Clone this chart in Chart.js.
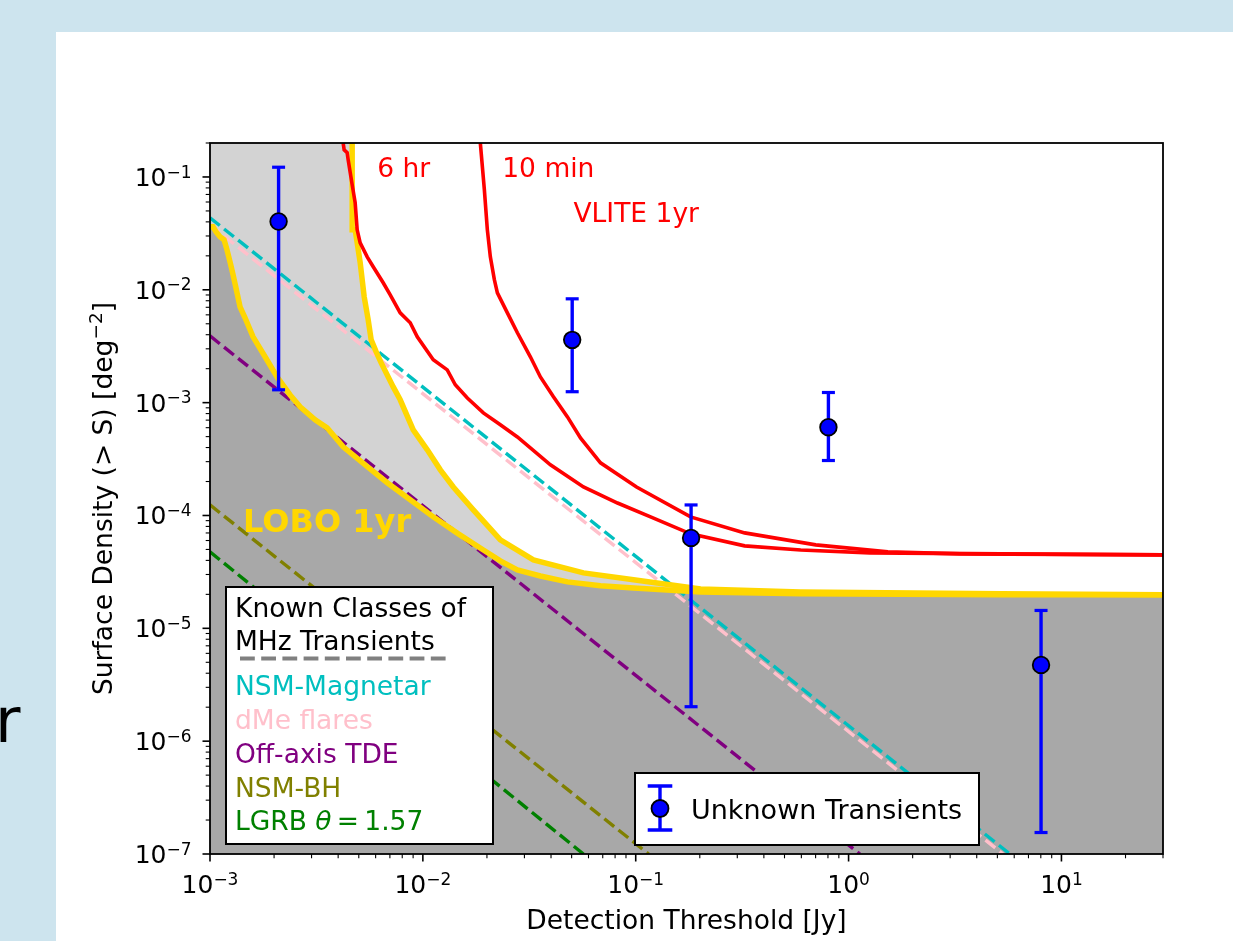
<!DOCTYPE html>
<html>
<head>
<meta charset="utf-8">
<title>LOBO / VLITE surface density</title>
<script src="https://cdn.jsdelivr.net/npm/chart.js@4.4.1/dist/chart.umd.min.js"></script>
<style>
    html, body { margin: 0; padding: 0; }
    body { width: 1233px; height: 941px; overflow: hidden; position: relative; background: #cde4ee; font-family: 'DejaVu Sans', sans-serif; }
    #panel { position: absolute; left: 56px; top: 32px; width: 1177px; height: 909px; background: #fff; }
    #cut { position: absolute; left: -5px; top: 690px; font-size: 62px; line-height: 62px; color: #000; }
    canvas { display: block; }
</style>
</head>
<body>
<div id="cut">r</div>
<div id="panel"><canvas id="myChart" width="1177" height="909" style="width:1177px;height:909px"></canvas></div>
<script>
// detection threshold [Jy] vs surface density [deg^-2]

// LOBO 1yr, lower curve (edge of the dark grey area)
const loboLowX = [1.0e-3, 1.033e-3, 1.067e-3, 1.114e-3, 1.164e-3, 1.202e-3, 1.242e-3, 1.283e-3, 1.340e-3, 1.384e-3,
    1.461e-3, 1.593e-3, 1.814e-3, 2.066e-3, 2.379e-3, 2.651e-3, 3.118e-3, 3.550e-3, 4.223e-3, 5.359e-3,
    6.801e-3, 8.724e-3, 1.119e-2, 1.468e-2, 1.924e-2, 2.312e-2, 2.780e-2, 3.566e-2, 4.779e-2, 6.831e-2,
    9.765e-2, 0.2018, 0.5961, 5.199, 30];
const loboLowY = [0.0362, 0.0362, 0.0327, 0.0295, 0.0278, 0.0226, 0.0177, 0.0136, 0.0094, 0.00707,
    0.00565, 0.00383, 0.00255, 0.00169, 0.00117, 9.18e-4, 7.04e-4, 5.98e-4, 4.06e-4, 2.81e-4,
    1.95e-4, 1.38e-4, 9.72e-5, 6.87e-5, 4.95e-5, 3.96e-5, 3.29e-5, 2.91e-5, 2.58e-5, 2.38e-5,
    2.28e-5, 2.10e-5, 2.02e-5, 1.98e-5, 1.98e-5];

// LOBO 1yr, upper curve (edge of the light grey area)
const loboHighX = [4.655e-3, 4.655e-3, 4.808e-3, 4.914e-3, 5.076e-3, 5.30e-3, 5.536e-3, 5.717e-3, 6.036e-3, 6.371e-3,
    7.257e-3, 7.826e-3, 9.01e-3, 1.049e-2, 1.208e-2, 1.390e-2, 1.726e-2, 2.312e-2, 3.306e-2, 5.682e-2,
    9.765e-2, 0.2018, 0.5961, 5.199, 30];
const loboHighY = [0.2, 0.034, 0.034, 0.0261, 0.0174, 0.0087, 0.00542, 0.0036, 0.00282, 0.00225,
    0.00138, 0.00106, 5.74e-4, 3.82e-4, 2.54e-4, 1.79e-4, 1.12e-4, 6.08e-5, 4.04e-5, 3.10e-5,
    2.69e-5, 2.23e-5, 2.10e-5, 2.02e-5, 1.98e-5];

// VLITE 1yr, 6 hr
const vlite6hX = [4.222e-3, 4.268e-3, 4.409e-3, 4.457e-3, 4.655e-3, 4.808e-3, 4.914e-3, 5.076e-3, 5.476e-3, 5.844e-3,
    6.511e-3, 7.025e-3, 7.826e-3, 8.724e-3, 9.412e-3, 1.119e-2, 1.302e-2, 1.420e-2, 1.618e-2, 1.924e-2,
    2.312e-2, 2.780e-2, 3.974e-2, 5.682e-2, 8.213e-2, 0.1174, 0.1810, 0.3249, 0.5961, 1.259, 5.199, 30];
const vlite6hY = [0.2, 0.174, 0.164, 0.142, 0.0853, 0.0591, 0.0340, 0.0261, 0.0196, 0.0160,
    0.01154, 0.00903, 0.00625, 0.0051, 0.00383, 0.0024, 0.00195, 0.00144, 0.0011, 8.12e-4,
    6.36e-4, 4.97e-4, 2.81e-4, 1.79e-4, 1.29e-4, 9.72e-5, 6.87e-5, 5.38e-5, 4.95e-5, 4.66e-5, 4.57e-5, 4.48e-5];

// VLITE 1yr, 10 min
const vlite10mX = [1.862e-2, 1.945e-2, 2.009e-2, 2.075e-2, 2.167e-2, 2.239e-2, 2.495e-2, 2.780e-2, 3.199e-2, 3.566e-2,
    4.106e-2, 4.779e-2, 5.501e-2, 6.831e-2, 0.1009, 0.1810, 0.3249, 0.7009, 1.529, 3.334, 30];
const vlite10mY = [0.2, 0.077, 0.034, 0.0196, 0.0123, 0.0094, 0.00625, 0.00416, 0.00255, 0.00169,
    0.00113, 7.48e-4, 4.87e-4, 2.93e-4, 1.79e-4, 9.72e-5, 7.01e-5, 5.49e-5, 4.76e-5, 4.57e-5, 4.48e-5];

// known classes (dashed), end points on the frame
const magnetarX = [1e-3, 5.73];
const magnetarY = [0.0435, 1e-7];
const dmeX = [1e-3, 5.31];
const dmeY = [0.0377, 1e-7];
const tdeX = [1e-3, 1.13];
const tdeY = [0.0039, 1e-7];
const nsmbhX = [1e-3, 0.115];
const nsmbhY = [1.24e-4, 1e-7];
const lgrbX = [1e-3, 0.0568];
const lgrbY = [4.76e-5, 1e-7];

// unknown transients with error bars
const unkX = [2.10e-3, 5.03e-2, 0.182, 0.804, 8.02];
const unkY = [4.03e-2, 3.60e-3, 6.33e-5, 6.06e-4, 4.74e-6];
const unkLo = [1.30e-3, 1.25e-3, 2.02e-6, 3.07e-4, 1.55e-7];
const unkHi = [0.122, 8.32e-3, 1.24e-4, 1.23e-3, 1.44e-5];

const classNames = ['NSM-Magnetar', 'dMe flares', 'Off-axis TDE', 'NSM-BH', 'LGRB θ = 1.57'];
const xTickLabels = ['10^−3', '10^−2', '10^−1', '10^0', '10^1'];
const yTickLabels = ['10^−7', '10^−6', '10^−5', '10^−4', '10^−3', '10^−2', '10^−1'];

const classColors = ['#00bfbf', '#ffc0cb', '#800080', '#808000', '#008000'];
const darkGrey = '#a8a8a8';
const lightGrey = '#d3d3d3';
const gold = '#ffd700';
const FONT = '"DejaVu Sans"';

Chart.defaults.font.family = "'DejaVu Sans', sans-serif";
Chart.defaults.color = '#000';

function pts(xs, ys) {
    return xs.map((x, i) => ({x: x, y: ys[i]}));
}

// decades plus 2..9 minor ticks, like matplotlib
function logTicks(min, max) {
    const out = [];
    for (let e = Math.floor(Math.log10(min)); e <= Math.ceil(Math.log10(max)); e++) {
        for (let m = 1; m < 10; m++) {
            const v = m * Math.pow(10, e);
            if (v >= min * 0.999 && v <= max * 1.001) out.push({value: v, major: m === 1});
        }
    }
    return out;
}

function decadeLabel(v, labels, lowest) {
    const l = Math.log10(v);
    const e = Math.round(l);
    if (Math.abs(l - e) > 1e-6) return '';
    return labels[e - lowest] || '';
}

// "10^-3" drawn as 10 with a raised exponent
function drawPow(ctx, label, x, y, align) {
    const parts = label.split('^');
    ctx.font = '25px ' + FONT;
    const wb = ctx.measureText(parts[0]).width;
    ctx.font = '17px ' + FONT;
    const we = ctx.measureText(parts[1]).width;
    const left = align === 'center' ? x - (wb + we) / 2 : x - wb - we;
    ctx.font = '25px ' + FONT;
    ctx.fillText(parts[0], left, y);
    ctx.font = '17px ' + FONT;
    ctx.fillText(parts[1], left + wb, y - 8.4);
}

const classX = [magnetarX, dmeX, tdeX, nsmbhX, lgrbX];
const classY = [magnetarY, dmeY, tdeY, nsmbhY, lgrbY];

const classLines = classX.map((xs, i) => ({
    label: classNames[i],
    data: pts(xs, classY[i]),
    borderColor: classColors[i],
    borderWidth: 3.4,
    borderDash: [12.5, 5.5],
    order: 10
}));

const errorBars = unkX.map((x, i) => ({
    label: 'err' + i,
    data: [{x: x, y: unkLo[i]}, {x: x, y: unkHi[i]}],
    borderColor: '#0000ff',
    borderWidth: 3.4,
    pointStyle: 'line',
    pointRadius: 6.5,
    pointBorderWidth: 3.2,
    pointBorderColor: '#0000ff',
    order: 2
}));

const datasets = [
    {
        label: 'dark area',
        data: pts(loboLowX, loboLowY),
        borderWidth: 0,
        backgroundColor: darkGrey,
        fill: 'start',
        order: 30
    },
    {
        label: 'light area',
        data: [{x: 1e-3, y: 0.2}].concat(pts(loboHighX, loboHighY)),
        borderWidth: 0,
        backgroundColor: lightGrey,
        fill: '-1',
        order: 29
    },
    ...classLines,
    {label: 'LOBO low', data: pts(loboLowX, loboLowY), borderColor: gold, borderWidth: 5.5, order: 5},
    {label: 'LOBO high', data: pts(loboHighX, loboHighY), borderColor: gold, borderWidth: 5.5, order: 5},
    {label: '6 hr', data: pts(vlite6hX, vlite6hY), borderColor: '#ff0000', borderWidth: 3.6, order: 4},
    {label: '10 min', data: pts(vlite10mX, vlite10mY), borderColor: '#ff0000', borderWidth: 3.6, order: 4},
    ...errorBars,
    {
        label: 'Unknown Transients',
        data: pts(unkX, unkY),
        showLine: false,
        pointRadius: 8.3,
        pointBackgroundColor: '#0000ff',
        pointBorderColor: '#000',
        pointBorderWidth: 1.8,
        order: 1
    }
];

// frame, outward ticks, tick labels and y title
const frameTicks = {
    id: 'frameTicks',
    afterDatasetsDraw(chart) {
        const {ctx, chartArea: a, scales} = chart;
        ctx.save();
        ctx.strokeStyle = '#000';
        ctx.fillStyle = '#000';
        ctx.textBaseline = 'alphabetic';
        ctx.textAlign = 'left';
        scales.x.ticks.forEach(t => {
            const p = scales.x.getPixelForValue(t.value);
            ctx.lineWidth = t.major ? 1.6 : 1.1;
            ctx.beginPath();
            ctx.moveTo(p, a.bottom);
            ctx.lineTo(p, a.bottom + (t.major ? 7.5 : 4.3));
            ctx.stroke();
            const lab = decadeLabel(t.value, xTickLabels, -3);
            if (lab) drawPow(ctx, lab, p, a.bottom + 39.3, 'center');
        });
        scales.y.ticks.forEach(t => {
            const p = scales.y.getPixelForValue(t.value);
            ctx.lineWidth = t.major ? 1.6 : 1.1;
            ctx.beginPath();
            ctx.moveTo(a.left, p);
            ctx.lineTo(a.left - (t.major ? 7.5 : 4.3), p);
            ctx.stroke();
            const lab = decadeLabel(t.value, yTickLabels, -7);
            if (lab) drawPow(ctx, lab, a.left - 18.5, p + 9, 'right');
        });
        ctx.lineWidth = 1.8;
        ctx.strokeRect(a.left, a.top, a.right - a.left, a.bottom - a.top);

        // y axis title with a real superscript
        ctx.translate(a.left - 98.3, (a.top + a.bottom) / 2);
        ctx.rotate(-Math.PI / 2);
        const t1 = 'Surface Density (> S) [deg', t2 = '−2', t3 = ']';
        ctx.font = '26.5px ' + FONT;
        const w1 = ctx.measureText(t1).width, w3 = ctx.measureText(t3).width;
        ctx.font = '18.5px ' + FONT;
        const w2 = ctx.measureText(t2).width;
        const x0 = -(w1 + w2 + w3) / 2;
        ctx.font = '26.5px ' + FONT;
        ctx.fillText(t1, x0, 0);
        ctx.fillText(t3, x0 + w1 + w2, 0);
        ctx.font = '18.5px ' + FONT;
        ctx.fillText(t2, x0 + w1, -9.5);
        ctx.restore();
    }
};

const notes = [
    {text: '6 hr', x: 6.1e-3, y: 0.1, color: '#ff0000', font: '26.5px ' + FONT},
    {text: '10 min', x: 2.36e-2, y: 0.1, color: '#ff0000', font: '26.5px ' + FONT},
    {text: 'VLITE 1yr', x: 5.1e-2, y: 4.0e-2, color: '#ff0000', font: '26.5px ' + FONT},
    {text: 'LOBO 1yr', x: 1.43e-3, y: 7.2e-5, color: gold, font: 'bold 32px ' + FONT}
];

const textNotes = {
    id: 'textNotes',
    afterDatasetsDraw(chart) {
        const {ctx, scales} = chart;
        ctx.save();
        ctx.textAlign = 'left';
        ctx.textBaseline = 'alphabetic';
        notes.forEach(n => {
            ctx.font = n.font;
            ctx.fillStyle = n.color;
            ctx.fillText(n.text, scales.x.getPixelForValue(n.x), scales.y.getPixelForValue(n.y));
        });
        ctx.restore();
    }
};

const legendBoxes = {
    id: 'legendBoxes',
    afterDraw(chart) {
        const {ctx, chartArea: a} = chart;
        ctx.save();
        ctx.textAlign = 'left';
        ctx.textBaseline = 'alphabetic';

        // known classes box
        const bx = a.left + 16, by = a.bottom - 267;
        ctx.fillStyle = '#fff';
        ctx.fillRect(bx, by, 267, 257);
        ctx.lineWidth = 2;
        ctx.strokeStyle = '#000';
        ctx.strokeRect(bx, by, 267, 257);

        const normal = '26.5px ' + FONT;
        ctx.font = normal;
        ctx.fillStyle = '#000';
        ctx.fillText('Known Classes of', bx + 9, by + 30);
        ctx.fillText('MHz Transients', bx + 9, by + 63);

        ctx.setLineDash([14.8, 6.4]);
        ctx.lineWidth = 4;
        ctx.strokeStyle = '#808080';
        ctx.beginPath();
        ctx.moveTo(bx + 14, by + 71.5);
        ctx.lineTo(bx + 221, by + 71.5);
        ctx.stroke();
        ctx.setLineDash([]);

        classNames.forEach((name, i) => {
            const ty = by + 108.3 + i * 33.75;
            const parts = name.split('θ');
            let tx = bx + 9;
            ctx.fillStyle = classColors[i];
            ctx.font = normal;
            ctx.fillText(parts[0], tx, ty);
            if (parts.length > 1) {
                // math-style: italic theta, tight spacing round '='
                tx += ctx.measureText(parts[0]).width;
                ctx.font = 'italic ' + normal;
                ctx.fillText('θ', tx, ty);
                tx += ctx.measureText('θ').width;
                ctx.font = normal;
                ctx.fillText(parts[1].replace(/ /g, '\u2009'), tx, ty);
            }
        });

        // unknown transients box
        const cx = a.left + 425, cy = a.bottom - 81;
        ctx.fillStyle = '#fff';
        ctx.fillRect(cx, cy, 344, 72);
        ctx.lineWidth = 2;
        ctx.strokeStyle = '#000';
        ctx.strokeRect(cx, cy, 344, 72);

        const hx = cx + 25;
        ctx.strokeStyle = '#0000ff';
        ctx.lineWidth = 3.4;
        ctx.beginPath();
        ctx.moveTo(hx, cy + 13);
        ctx.lineTo(hx, cy + 57);
        ctx.moveTo(hx - 12.3, cy + 13);
        ctx.lineTo(hx + 12.3, cy + 13);
        ctx.moveTo(hx - 12.3, cy + 57);
        ctx.lineTo(hx + 12.3, cy + 57);
        ctx.stroke();
        ctx.beginPath();
        ctx.arc(hx, cy + 35.5, 8.5, 0, Math.PI * 2);
        ctx.fillStyle = '#0000ff';
        ctx.fill();
        ctx.lineWidth = 1.8;
        ctx.strokeStyle = '#000';
        ctx.stroke();

        ctx.font = '27px ' + FONT;
        ctx.fillStyle = '#000';
        ctx.fillText('Unknown Transients', cx + 56, cy + 46);
        ctx.restore();
    }
};

const config = {
    type: 'line',
    data: {datasets: datasets},
    options: {
        responsive: false,
        animation: false,
        events: [],
        layout: {padding: {left: 0, right: 70, top: 111, bottom: 0}},
        elements: {point: {radius: 0}, line: {tension: 0}},
        datasets: {line: {clip: 0}},
        plugins: {legend: {display: false}, tooltip: {enabled: false}},
        scales: {
            x: {
                type: 'logarithmic',
                position: 'bottom',
                min: 1e-3,
                max: 30,
                afterBuildTicks: s => { s.ticks = logTicks(1e-3, 30); },
                afterFit: s => { s.height = 87; },
                grid: {display: false, drawTicks: false},
                border: {display: false},
                ticks: {display: false, autoSkip: false, maxRotation: 0, minRotation: 0},
                title: {
                    display: true, text: 'Detection Threshold [Jy]', color: '#000',
                    font: {size: 26.5}, padding: {top: 0, bottom: 3}
                }
            },
            y: {
                type: 'logarithmic',
                position: 'left',
                min: 1e-7,
                max: 0.2,
                afterBuildTicks: s => { s.ticks = logTicks(1e-7, 0.2); },
                afterFit: s => { s.width = 154; },
                grid: {display: false, drawTicks: false},
                border: {display: false},
                ticks: {display: false, autoSkip: false},
                title: {display: false}
            }
        }
    },
    plugins: [frameTicks, textNotes, legendBoxes]
};

const myChart = new Chart(document.getElementById('myChart'), config);
</script>
</body>
</html>
